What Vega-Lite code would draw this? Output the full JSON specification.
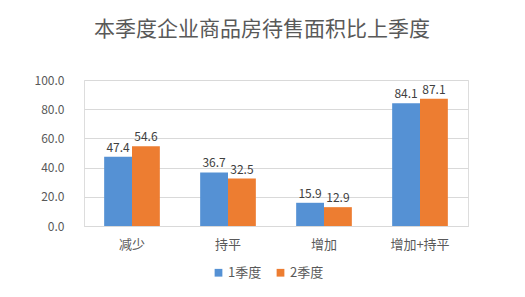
{
  "$schema": "https://vega.github.io/schema/vega-lite/v6.json",
  "autosize": "none",
  "width": 384,
  "height": 146,
  "padding": {"left": 84, "top": 80, "right": 57, "bottom": 71},
  "background": "white",
  "title": {
    "text": "本季度企业商品房待售面积比上季度",
    "fontSize": 21,
    "font": "Noto Sans CJK SC",
    "fontWeight": "normal",
    "color": "#595959",
    "anchor": "middle",
    "dx": -14,
    "offset": 34
  },
  "data": {
    "values": [
      {"cat": "减少", "s": "1季度", "v": 47.4},
      {"cat": "减少", "s": "2季度", "v": 54.6},
      {"cat": "持平", "s": "1季度", "v": 36.7},
      {"cat": "持平", "s": "2季度", "v": 32.5},
      {"cat": "增加", "s": "1季度", "v": 15.9},
      {"cat": "增加", "s": "2季度", "v": 12.9},
      {"cat": "增加+持平", "s": "1季度", "v": 84.1},
      {"cat": "增加+持平", "s": "2季度", "v": 87.1}
    ]
  },
  "encoding": {
    "x": {
      "field": "cat", "type": "nominal", "sort": null,
      "scale": {"paddingInner": 0.42, "paddingOuter": 0.21},
      "axis": {"title": null, "labelAngle": 0, "domain": true, "domainColor": "#d9d9d9", "ticks": false, "labelPadding": 12, "labelFontSize": 13, "labelColor": "#595959", "labelFont": "Noto Sans CJK SC"}
    },
    "xOffset": {"field": "s", "type": "nominal", "scale": {"paddingInner": 0, "paddingOuter": 0}},
    "y": {
      "field": "v", "type": "quantitative",
      "scale": {"domain": [0, 100]},
      "axis": {"title": null, "format": ".1f", "values": [0, 20, 40, 60, 80, 100], "domain": false, "ticks": false, "labelPadding": 20, "labelFontSize": 12, "labelColor": "#595959", "labelFont": "Noto Sans CJK SC", "gridColor": "#d9d9d9"}
    }
  },
  "layer": [
    {
      "mark": {"type": "bar"},
      "encoding": {
        "color": {
          "field": "s", "type": "nominal",
          "scale": {"range": ["#5591d4", "#ed7d31"]},
          "legend": {
            "title": null, "orient": "none", "direction": "horizontal",
            "legendX": 128, "legendY": 186,
            "symbolType": "square", "symbolSize": 60, "symbolStrokeWidth": 0,
            "labelFontSize": 13, "labelColor": "#595959", "labelFont": "Noto Sans CJK SC",
            "columnPadding": 12, "labelOffset": 3
          }
        }
      }
    },
    {
      "mark": {"type": "text", "dy": -9, "fontSize": 12, "color": "#404040", "font": "Noto Sans CJK SC"},
      "encoding": {"text": {"field": "v", "type": "quantitative", "format": ".1f"}}
    }
  ]
}
